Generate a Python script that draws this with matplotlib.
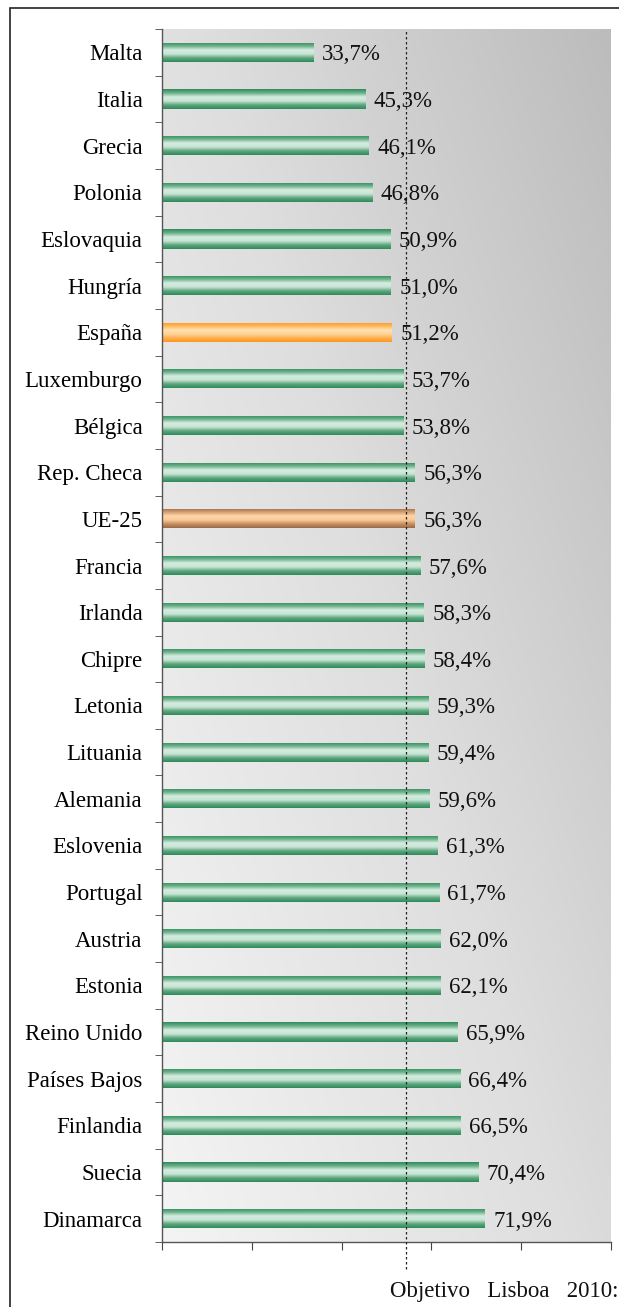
import matplotlib
matplotlib.use('Agg')
import matplotlib.pyplot as plt
import numpy as np
from matplotlib.colors import LinearSegmentedColormap
from matplotlib.patches import Rectangle

COUNTRIES = ['Malta', 'Italia', 'Grecia', 'Polonia', 'Eslovaquia', 'Hungría', 'España',
             'Luxemburgo', 'Bélgica', 'Rep. Checa', 'UE-25', 'Francia', 'Irlanda', 'Chipre',
             'Letonia', 'Lituania', 'Alemania', 'Eslovenia', 'Portugal', 'Austria', 'Estonia',
             'Reino Unido', 'Países Bajos', 'Finlandia', 'Suecia', 'Dinamarca']
VALUES = [33.7, 45.3, 46.1, 46.8, 50.9, 51.0, 51.2, 53.7, 53.8, 56.3, 56.3, 57.6, 58.3, 58.4,
          59.3, 59.4, 59.6, 61.3, 61.7, 62.0, 62.1, 65.9, 66.4, 66.5, 70.4, 71.9]
HIGHLIGHT = {'España': 'orange', 'UE-25': 'brown'}
TARGET = 54.3

GRADS = {
    'green': ['#2e8b5a', '#6fb38d', '#d6ede1', '#c6e4d3', '#5fa67f', '#2e8b5a'],
    'orange': ['#ff961e', '#ffb860', '#ffe2b0', '#ffd39a', '#ffb050', '#ff961e'],
    'brown': ['#9a6a48', '#d8a070', '#ffd6aa', '#f8c898', '#c89060', '#9a6a48'],
}

FONT = 'Liberation Serif'
FS = 16.5
plt.rcParams.update({'font.family': FONT, 'font.size': FS})

fig = plt.figure(figsize=(6.19, 13.07), dpi=100)
fig.patches.append(Rectangle((10 / 619, -0.1), 1.2, 1 - 8 / 1307 + 0.1,
                             transform=fig.transFigure, fill=False,
                             edgecolor='#222222', linewidth=1.2))

ax = fig.add_axes([162 / 619, 1 - 1242 / 1307, (611 - 162) / 619, (1242 - 29) / 1307])

n = len(COUNTRIES)
ypos = np.arange(n)
ax.set_xlim(0, 100)
ax.set_ylim(n - 0.5, -0.5)

# background gradient (light bottom-left, dark top-right)
gx, gy = np.meshgrid(np.linspace(0, 1, 200), np.linspace(0, 1, 400))
bg = 0.55 * gx + 0.45 * gy
bg_cmap = LinearSegmentedColormap.from_list('bg', ['#f4f4f4', '#dedede', '#bcbcbc'])
ax.imshow(bg, cmap=bg_cmap, extent=(0, 1, 0, 1), transform=ax.transAxes,
          origin='lower', aspect='auto', zorder=0, interpolation='bilinear')

bar_h = 0.41
bars = ax.barh(ypos, VALUES, height=bar_h, color='none', edgecolor='none', zorder=2)
grad = np.linspace(0, 1, 64).reshape(-1, 1)
for bar, name, v, y in zip(bars, COUNTRIES, VALUES, ypos):
    cmap = LinearSegmentedColormap.from_list(name, GRADS[HIGHLIGHT.get(name, 'green')])
    im = ax.imshow(grad, cmap=cmap, extent=(0, v, y + bar_h / 2, y - bar_h / 2),
                   aspect='auto', zorder=2, interpolation='bilinear', origin='upper')
    im.set_clip_path(bar)
    ax.annotate(f'{v:.1f}%'.replace('.', ','), (v, y), xytext=(6, 0),
                textcoords='offset points', va='center_baseline', ha='left', fontsize=FS,
                color='#111111', zorder=4)

ax.set_xlim(0, 100)
ax.set_ylim(n - 0.5, -0.5)

ax.axvline(TARGET, ymin=-0.022, ymax=1, color='#222222', linestyle=(0, (2, 2)),
           linewidth=0.9, clip_on=False, zorder=3)

ax.set_yticks(ypos)
ax.set_yticklabels(COUNTRIES, va='center_baseline')
ax.set_yticks(np.arange(n + 1) - 0.5, minor=True)
ax.tick_params(axis='y', which='major', length=0, pad=14)
ax.tick_params(axis='y', which='minor', length=5, direction='out', color='#444444')
ax.set_xticks(np.arange(0, 101, 20))
ax.set_xticklabels([])
ax.tick_params(axis='x', length=6, direction='out', color='#444444')

for side in ['top', 'right']:
    ax.spines[side].set_visible(False)
for side in ['left', 'bottom']:
    ax.spines[side].set_color('#555555')
    ax.spines[side].set_linewidth(1.0)

fig.text(390 / 619, 1 - 1292 / 1307, 'Objetivo   Lisboa   2010:', fontsize=FS,
         ha='left', va='center', color='#111111')

fig.savefig('out.png', dpi=100)
